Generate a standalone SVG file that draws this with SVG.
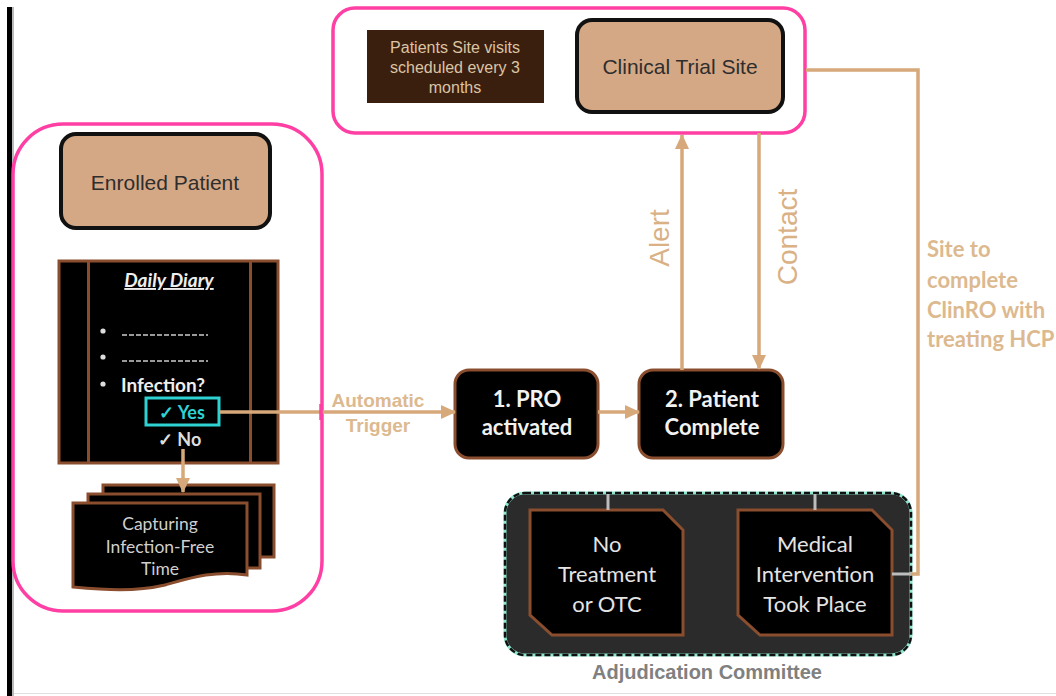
<svg xmlns="http://www.w3.org/2000/svg" width="1056" height="696" viewBox="0 0 1056 696">
<defs>
<marker id="ah" markerUnits="userSpaceOnUse" markerWidth="16" markerHeight="16" viewBox="0 0 16 16" refX="14" refY="8" orient="auto">
<path d="M0,1 L15,8 L0,15 Z" fill="#d6a87a"/>
</marker>
<style>
.pink{fill:#fff;stroke:#ff3fa3;stroke-width:3.5}
.tanbox{fill:#d5a885;stroke:#111;stroke-width:4}
.dark{fill:#000;stroke:#8a4e2e;stroke-width:3}
.conn{fill:none;stroke:#d6a87a;stroke-width:3.5}
.gray{fill:none;stroke:#bdbdbd;stroke-width:3}
.lbl{font-family:'Liberation Sans',Arial,sans-serif;}
.cal{font-family:Lato,'Open Sans',sans-serif;}
.tan{fill:#d9b185}
</style>
</defs>
<rect width="1056" height="696" fill="#fff"/>
<rect x="7" y="7" width="5" height="689" fill="#000"/>
<rect x="12" y="7" width="2" height="689" fill="#bbb"/>
<line x1="14" y1="693.5" x2="1056" y2="693.5" stroke="#e0e0e0" stroke-width="1"/>

<g id="site-group">
<rect class="pink" x="333" y="8" width="472" height="125" rx="22"/>
</g>
<g id="visits-note">
<rect x="367" y="30" width="177" height="73" fill="#3b1f0e"/>
<g class="lbl" font-size="16" fill="#dcc4a4" text-anchor="middle">
<text x="455" y="53">Patients Site visits</text>
<text x="455" y="73">scheduled  every 3</text>
<text x="455" y="93">months</text>
</g>
</g>
<g id="clinical-site">
<rect class="tanbox" x="577" y="20" width="206" height="92" rx="15"/>
<text class="lbl" x="680" y="74" font-size="21" fill="#2e2e2e" text-anchor="middle">Clinical Trial Site</text>
</g>

<g id="patient-group">
<rect class="pink" x="13" y="124" width="309" height="487" rx="50"/>
</g>
<g id="enrolled-patient">
<rect class="tanbox" x="61" y="134" width="209" height="94" rx="15"/>
<text class="lbl" x="165" y="190" font-size="21" fill="#2e2e2e" text-anchor="middle">Enrolled Patient</text>
</g>

<g id="daily-diary">
<rect class="dark" x="59" y="261" width="219" height="202"/>
<line x1="88.5" y1="261" x2="88.5" y2="463" stroke="#8a4e2e" stroke-width="3"/>
<line x1="250.5" y1="261" x2="250.5" y2="463" stroke="#8a4e2e" stroke-width="3"/>
<text class="cal" x="169" y="287" font-size="19" font-weight="bold" font-style="italic" fill="#eee" text-anchor="middle" text-decoration="underline">Daily Diary</text>
<circle cx="103" cy="331" r="2.6" fill="#ddd"/>
<circle cx="103" cy="357" r="2.6" fill="#ddd"/>
<circle cx="103" cy="384" r="2.6" fill="#ddd"/>
<line x1="122" y1="335" x2="208" y2="335" stroke="#ccc" stroke-width="1.5" stroke-dasharray="5,2"/>
<line x1="122" y1="361" x2="208" y2="361" stroke="#ccc" stroke-width="1.5" stroke-dasharray="5,2"/>
<text class="cal" x="121" y="392" font-size="19" font-weight="bold" fill="#eee">Infection?</text>
<rect x="146" y="398" width="73" height="27" fill="#000" stroke="#2fd2d2" stroke-width="3"/>
<text class="cal" x="182" y="419" font-size="18" font-weight="bold" fill="#2fd2d2" text-anchor="middle">✓ Yes</text>
<text class="cal" x="158" y="446" font-size="18" font-weight="bold" fill="#ddd">✓ No</text>
</g>

<g id="infection-free-time">
<rect class="dark" x="103" y="485" width="171" height="72"/>
<rect class="dark" x="88" y="494" width="172" height="74"/>
<path class="dark" d="M73,503 H247 V575 C215,570 190,578 165,585 C135,592 105,590 73,587 Z"/>
<g class="cal" font-size="17.5" fill="#cfcfcf" text-anchor="middle">
<text x="160" y="530">Capturing</text>
<text x="160" y="553">Infection-Free</text>
<text x="160" y="575">Time</text>
</g>
</g>

<g id="pro-activated">
<rect class="dark" x="455" y="370" width="143" height="88" rx="14"/>
<g class="cal" font-size="22" font-weight="bold" fill="#f2f2f2" text-anchor="middle">
<text x="527" y="407">1. PRO</text>
<text x="527" y="435">activated</text>
</g>
</g>
<g id="patient-complete">
<rect class="dark" x="639" y="370" width="144" height="88" rx="14"/>
<g class="cal" font-size="22" font-weight="bold" fill="#f2f2f2" text-anchor="middle">
<text x="712" y="407">2. Patient</text>
<text x="712" y="435">Complete</text>
</g>
</g>

<g id="adjudication-committee">
<rect x="505" y="493" width="406" height="162" rx="20" fill="#2b2b2b" stroke="#8fe6cf" stroke-width="3"/>
<rect x="505" y="493" width="406" height="162" rx="20" fill="none" stroke="#111" stroke-width="2.5" stroke-dasharray="6,3"/>
<text class="lbl" x="707" y="679" font-size="20" font-weight="bold" fill="#808080" text-anchor="middle">Adjudication Committee</text>
</g>
<g id="no-treatment">
<path class="dark" d="M530,510 H663 L683,530 V635 H552 L530,615 Z"/>
<g class="cal" font-size="22" fill="#e4e4e4" text-anchor="middle">
<text x="607" y="552">No</text>
<text x="607" y="582">Treatment</text>
<text x="607" y="612">or OTC</text>
</g>
</g>
<g id="medical-intervention">
<path class="dark" d="M738,510 H872 L892,530 V635 H760 L738,615 Z"/>
<g class="cal" font-size="22" fill="#e4e4e4" text-anchor="middle">
<text x="815" y="552">Medical</text>
<text x="815" y="582">Intervention</text>
<text x="815" y="612">Took Place</text>
</g>
</g>

<g id="connectors">
<line class="conn" x1="220" y1="412" x2="455" y2="412" marker-end="url(#ah)"/>
<line class="conn" x1="183" y1="449" x2="183" y2="492" marker-end="url(#ah)"/>
<line class="conn" x1="598" y1="412" x2="639" y2="412" marker-end="url(#ah)"/>
<line class="conn" x1="682" y1="370" x2="682" y2="135" marker-end="url(#ah)"/>
<line class="conn" x1="759" y1="133" x2="759" y2="369" marker-end="url(#ah)"/>
<polyline class="conn" points="806,70 918,70 918,574 910,574"/>
<line class="gray" x1="892" y1="574" x2="911" y2="574"/>
<line class="gray" x1="608" y1="494" x2="608" y2="510"/>
<line class="gray" x1="815" y1="494" x2="815" y2="510"/>
<line x1="321" y1="404" x2="321" y2="420" stroke="#ff3fa3" stroke-width="3.5"/>
<g class="lbl" font-size="19" font-weight="bold" fill="#dcb98f" text-anchor="middle">
<text x="378" y="407">Automatic</text>
<text x="378" y="432">Trigger</text>
</g>
<text class="lbl tan" font-size="28" text-anchor="middle" transform="translate(669,238) rotate(-90)">Alert</text>
<text class="lbl tan" font-size="28" text-anchor="middle" transform="translate(797,237) rotate(-90)">Contact</text>
<g class="cal" font-size="22" font-weight="bold" fill="#dcb98f">
<text x="927" y="257">Site to</text>
<text x="927" y="288">complete</text>
<text x="927" y="318">ClinRO with</text>
<text x="927" y="347">treating HCP</text>
</g>
</g>
</svg>
